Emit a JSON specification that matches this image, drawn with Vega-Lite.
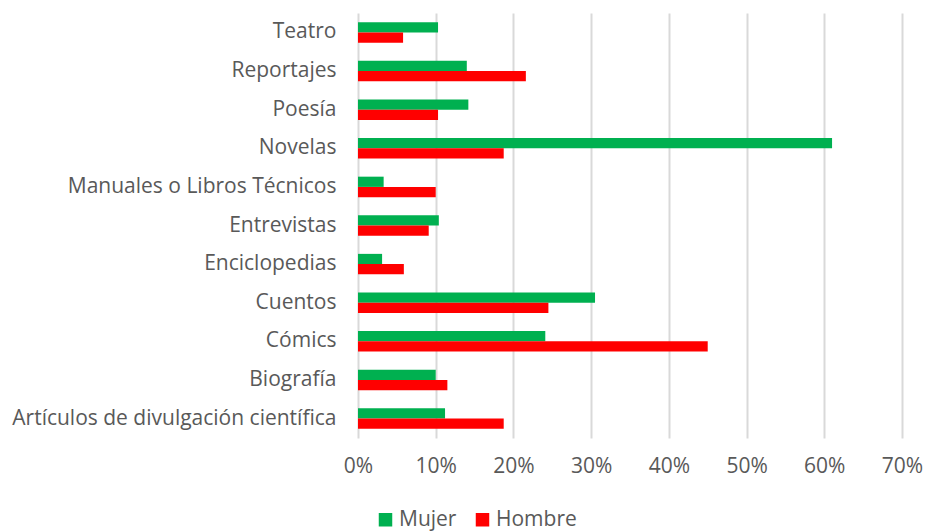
{
  "$schema": "https://vega.github.io/schema/vega-lite/v6.json",
  "autosize": {"type": "none"},
  "padding": {"left": 358, "top": 13, "right": 24, "bottom": 93},
  "width": 544,
  "height": 425,
  "background": "white",
  "config": {
    "view": {"stroke": null},
    "font": "Open Sans",
    "axis": {"labelFont": "Open Sans", "labelColor": "#595959"},
    "legend": {"labelFont": "Open Sans"}
  },
  "data": {
    "values": [
      {"genero": "Teatro", "sexo": "Mujer", "valor": 0.103},
      {"genero": "Teatro", "sexo": "Hombre", "valor": 0.058},
      {"genero": "Reportajes", "sexo": "Mujer", "valor": 0.140},
      {"genero": "Reportajes", "sexo": "Hombre", "valor": 0.216},
      {"genero": "Poesía", "sexo": "Mujer", "valor": 0.142},
      {"genero": "Poesía", "sexo": "Hombre", "valor": 0.103},
      {"genero": "Novelas", "sexo": "Mujer", "valor": 0.610},
      {"genero": "Novelas", "sexo": "Hombre", "valor": 0.1875},
      {"genero": "Manuales o Libros Técnicos", "sexo": "Mujer", "valor": 0.033},
      {"genero": "Manuales o Libros Técnicos", "sexo": "Hombre", "valor": 0.100},
      {"genero": "Entrevistas", "sexo": "Mujer", "valor": 0.104},
      {"genero": "Entrevistas", "sexo": "Hombre", "valor": 0.091},
      {"genero": "Enciclopedias", "sexo": "Mujer", "valor": 0.031},
      {"genero": "Enciclopedias", "sexo": "Hombre", "valor": 0.059},
      {"genero": "Cuentos", "sexo": "Mujer", "valor": 0.305},
      {"genero": "Cuentos", "sexo": "Hombre", "valor": 0.245},
      {"genero": "Cómics", "sexo": "Mujer", "valor": 0.241},
      {"genero": "Cómics", "sexo": "Hombre", "valor": 0.450},
      {"genero": "Biografía", "sexo": "Mujer", "valor": 0.100},
      {"genero": "Biografía", "sexo": "Hombre", "valor": 0.115},
      {"genero": "Artículos de divulgación científica", "sexo": "Mujer", "valor": 0.112},
      {"genero": "Artículos de divulgación científica", "sexo": "Hombre", "valor": 0.1875}
    ]
  },
  "mark": {"type": "bar", "cornerRadius": 0},
  "encoding": {
    "y": {
      "field": "genero",
      "type": "nominal",
      "sort": null,
      "scale": {"paddingInner": 0.47, "paddingOuter": 0.24},
      "axis": {
        "title": null,
        "ticks": false,
        "domain": false,
        "labelPadding": 22,
        "labelFontSize": 21,
        "labelLimit": 400
      }
    },
    "yOffset": {
      "field": "sexo",
      "type": "nominal",
      "sort": ["Mujer", "Hombre"],
      "scale": {"paddingInner": 0, "paddingOuter": 0}
    },
    "x": {
      "field": "valor",
      "type": "quantitative",
      "scale": {"domain": [0, 0.7], "nice": false},
      "axis": {
        "title": null,
        "format": ".0%",
        "values": [0, 0.1, 0.2, 0.3, 0.4, 0.5, 0.6, 0.7],
        "ticks": false,
        "domain": false,
        "grid": true,
        "gridColor": "#d9d9d9",
        "gridWidth": 2,
        "labelFlush": false,
        "labelPadding": 17,
        "labelFontSize": 21
      }
    },
    "color": {
      "field": "sexo",
      "type": "nominal",
      "sort": ["Mujer", "Hombre"],
      "scale": {"domain": ["Mujer", "Hombre"], "range": ["#00B050", "#FF0000"]},
      "legend": {
        "title": null,
        "orient": "none",
        "direction": "horizontal",
        "legendX": 17,
        "legendY": 496,
        "padding": 0,
        "symbolType": "square",
        "symbolSize": 182,
        "symbolStrokeWidth": 0,
        "symbolOpacity": 1,
        "labelFontSize": 21,
        "labelColor": "#595959",
        "labelOffset": 3,
        "columnPadding": 15
      }
    }
  }
}
